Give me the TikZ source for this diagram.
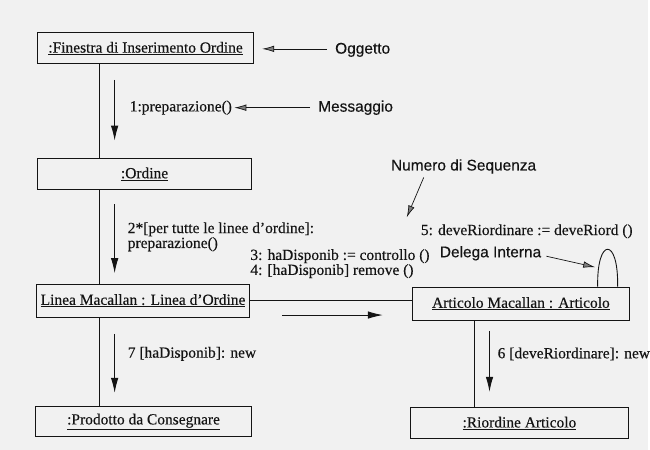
\documentclass[tikz,border=0pt]{standalone}
\usepackage{fontspec}
\setmainfont{Liberation Serif}
\newfontfamily\labelfont{Liberation Sans}
\usetikzlibrary{arrows.meta,calc}
\definecolor{paper}{RGB}{241,241,241}
\definecolor{ink}{RGB}{20,20,20}
\newcommand{\textsz}{\fontsize{15.5}{15}\selectfont\addfontfeatures{FakeBold=0.3}}
\tikzset{
  obj/.style={draw=ink, line width=1pt, inner sep=0pt, text=ink,
    font=\textsz},
  link/.style={draw=ink, line width=0.9pt},
  msg/.style={draw=ink, line width=0.9pt, -{Latex[length=15pt,width=7.5pt]}},
  msgtext/.style={anchor=west, inner sep=0pt, text=ink, align=left,
    font=\textsz},
  note/.style={anchor=west, inner sep=0pt, text=ink,
    font=\labelfont\textsz},
  pointer/.style={draw=ink, line width=0.7pt,
    -{Latex[length=12pt,width=6.5pt,fill=ink!55]}},
}
\newcommand{\objname}[1]{\underline{#1}}

\begin{document}
\begin{tikzpicture}[x=1pt,y=-1pt]
% paper
\fill[paper] (0,0) rectangle (650,451);

% objects
\node[obj, minimum width=216pt, minimum height=31pt] (fin) at (146,48.5)
  {\objname{:Finestra di Inserimento Ordine}};
\node[obj, minimum width=214pt, minimum height=31pt] (ord) at (145,174.5)
  {\objname{:Ordine}};
\node[obj, minimum width=213pt, minimum height=33pt] (lin) at (143.5,301.5)
  {\objname{Linea Macallan : Linea d'Ordine}};
\node[obj, minimum width=217pt, minimum height=33pt] (art) at (522.5,304.5)
  {\objname{Articolo Macallan : Articolo}};
\node[obj, minimum width=216pt, minimum height=30pt] (pro) at (144,423)
  {\objname{:Prodotto da Consegnare}};
\node[obj, minimum width=218pt, minimum height=31pt] (rio) at (521,424.5)
  {\objname{:Riordine Articolo}};

% links between objects
\coordinate (spineL) at (100,0);
\coordinate (spineR) at (476,0);
\draw[link] (fin.south -| spineL) -- (ord.north -| spineL);
\draw[link] (ord.south -| spineL) -- (lin.north -| spineL);
\draw[link] (lin.south -| spineL) -- (pro.north -| spineL);
\draw[link] (lin.east) -- (lin.east -| art.west);
\draw[link] (art.south -| spineR) -- (rio.north -| spineR);

% self link on Articolo
\coordinate (loopA) at ($(art.north east)+(-32,0)$);
\coordinate (loopB) at ($(art.north east)+(-12,0)$);
\draw[link] (loopA) .. controls ($(loopA)+(-1,-50)$) and ($(loopB)+(1,-50)$) .. (loopB);

% messages
\coordinate (m1a) at (115,80);   \coordinate (m1b) at (115,141);
\coordinate (m2a) at (115,205);  \coordinate (m2b) at (115,274);
\coordinate (m3a) at (283,316);  \coordinate (m3b) at (384,316);
\coordinate (m7a) at (115,335);  \coordinate (m7b) at (115,394);
\coordinate (m6a) at (491,332);  \coordinate (m6b) at (491,393);
\draw[msg] (m1a) -- (m1b);
\draw[msg] (m2a) -- (m2b);
\draw[msg] (m3a) -- (m3b);
\draw[msg] (m7a) -- (m7b);
\draw[msg] (m6a) -- (m6b);

\node[msgtext] (t1) at (130,108) {1:preparazione()};
\node[msgtext] (t2) at (128,237.5) {2*[per tutte le linee d'ordine]:\\preparazione()};
\node[msgtext] (t34) at (251,264.5) {3: haDisponib := controllo ()\\4: [haDisponib] remove ()};
\node[msgtext] (t5) at (422,232) {5: deveRiordinare := deveRiord ()};
\node[msgtext] (t7) at (128,355) {7 [haDisponib]: new};
\node[msgtext] (t6) at (499,355) {6 [deveRiordinare]: new};

% explanatory notes
\node[note] (nOgg) at (336,50) {Oggetto};
\node[note] (nMsg) at (319,108) {Messaggio};
\node[note] (nSeq) at (392,167) {Numero di Sequenza};
\node[note] (nDel) at (441,254) {Delega Interna};

\coordinate (pO) at (263,49);
\coordinate (pM) at (235,108);
\coordinate (pS) at (408,218);
\coordinate (pD) at (597,268);
\coordinate (sS) at (425,178);
\draw[pointer] (nOgg.west) ++(-8,-1) -- (pO);
\draw[pointer] (nMsg.west) ++(-8,0) -- (pM);
\draw[pointer] (sS) -- (pS);
\draw[pointer] (nDel.east) ++(5,3) -- (pD);
\end{tikzpicture}
\end{document}
